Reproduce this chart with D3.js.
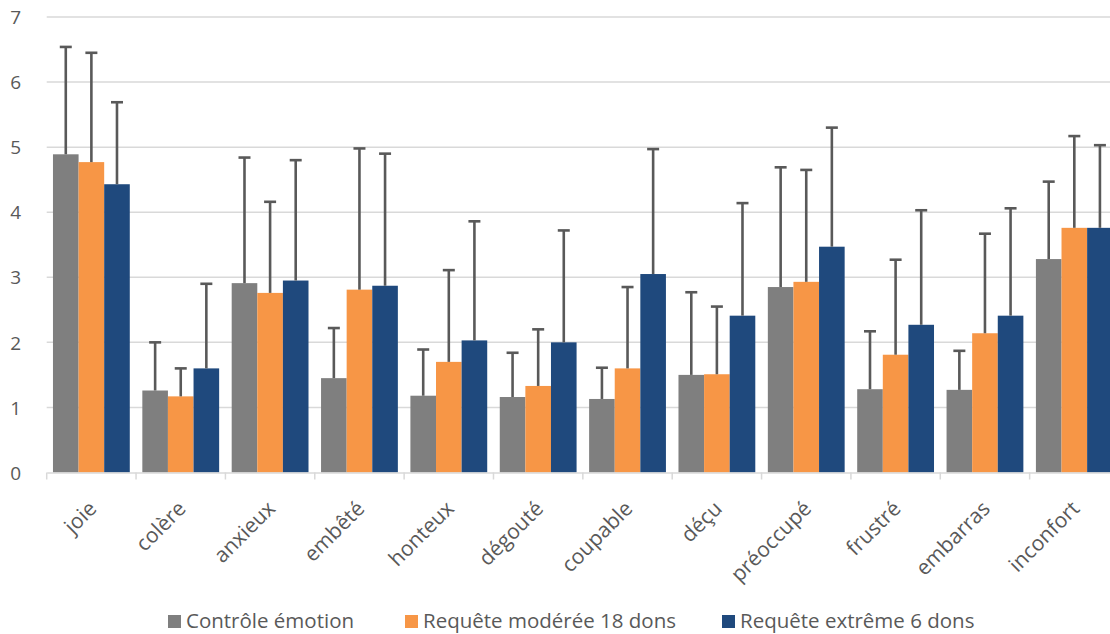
<!DOCTYPE html>
<html><head><meta charset="utf-8">
<script src="https://cdn.jsdelivr.net/npm/d3@7"></script>
<style>body{margin:0;background:#fff}svg{display:block}</style>
</head><body>
<svg id="c" width="1110" height="634"></svg>
<script>
const categories = ["joie","colère","anxieux","embêté","honteux","dégouté","coupable","déçu","préoccupé","frustré","embarras","inconfort"];
const seriesNames = ["Contrôle émotion","Requête modérée 18 dons","Requête extrême 6 dons"];
const controle = [4.89,1.26,2.91,1.45,1.18,1.16,1.13,1.50,2.85,1.28,1.27,3.28];
const moderee  = [4.77,1.17,2.76,2.81,1.70,1.33,1.60,1.51,2.93,1.81,2.14,3.76];
const extreme  = [4.43,1.60,2.95,2.87,2.03,2.00,3.05,2.41,3.47,2.27,2.41,3.76];
const controleErrTop = [6.54,2.00,4.84,2.22,1.89,1.84,1.61,2.77,4.69,2.17,1.87,4.47];
const modereeErrTop  = [6.45,1.60,4.16,4.98,3.11,2.20,2.85,2.55,4.65,3.27,3.67,5.17];
const extremeErrTop  = [5.69,2.90,4.80,4.90,3.86,3.72,4.97,4.14,5.30,4.03,4.06,5.03];
const yTicks = [0,1,2,3,4,5,6,7];
const colors = ["#7f7f7f","#f79646","#1f497d"];

const values = [controle, moderee, extreme];
const errs = [controleErrTop, modereeErrTop, extremeErrTop];

const svg = d3.select("#c");
const font = "'Open Sans', sans-serif";
const x0 = d3.scaleBand().domain(categories).range([46.7, 1119]).paddingInner(0).paddingOuter(0);
const x1 = d3.scaleBand().domain([0,1,2]).range([0, x0.bandwidth()]).paddingInner(0).paddingOuter(0.245);
const y = d3.scaleLinear().domain([0,7]).range([472.5, 17]);

// gridlines
svg.append("g").selectAll("line").data(yTicks.filter(d=>d>0)).join("line")
  .attr("x1", 46.7).attr("x2", 1119)
  .attr("y1", d=>y(d)).attr("y2", d=>y(d))
  .attr("stroke", "#d9d9d9").attr("stroke-width", 1.5);

// y axis labels
const yAxis = d3.axisLeft(y).tickValues(yTicks).tickFormat(d3.format("d")).tickSize(0).tickPadding(0);
const gy = svg.append("g").attr("transform","translate(21,0)").call(yAxis);
gy.select(".domain").remove();
gy.selectAll("text").attr("font-family", font).attr("font-size", 19).attr("fill", "#595959").attr("dy","0.35em");

// bars
const bars = svg.append("g");
categories.forEach((c, i) => {
  values.forEach((vals, s) => {
    const bx = x0(c) + x1(s);
    const bw = x1.bandwidth();
    bars.append("rect")
      .attr("x", bx).attr("width", bw)
      .attr("y", y(vals[i])).attr("height", y(0) - y(vals[i]))
      .attr("fill", colors[s]);
  });
});

// error bars
const eb = svg.append("g").attr("stroke", "#595959").attr("stroke-width", 2.6);
categories.forEach((c, i) => {
  values.forEach((vals, s) => {
    const cx = x0(c) + x1(s) + x1.bandwidth()/2;
    eb.append("line").attr("x1", cx).attr("x2", cx).attr("y1", y(vals[i])).attr("y2", y(errs[s][i]));
    eb.append("line").attr("x1", cx-6).attr("x2", cx+6).attr("y1", y(errs[s][i])).attr("y2", y(errs[s][i]));
  });
});

// x axis
const xAxis = d3.axisBottom(x0).tickSize(0).tickPadding(0).tickFormat("");
const gx = svg.append("g").attr("transform", `translate(0,${y(0)})`).call(xAxis);
gx.select(".domain").attr("stroke", "#d9d9d9").attr("stroke-width", 1.5);
gx.selectAll(".tick").remove();
const bounds = categories.map(c => x0(c));
svg.append("g").selectAll("line").data(bounds).join("line")
  .attr("x1", d=>d).attr("x2", d=>d).attr("y1", y(0)).attr("y2", y(0)+7)
  .attr("stroke", "#d9d9d9").attr("stroke-width", 1.5);

svg.append("g").selectAll("text").data(categories).join("text")
  .attr("transform", d => `translate(${x0(d)+x0.bandwidth()/2-4},${y(0)+27}) rotate(-45)`)
  .attr("text-anchor", "end").attr("dy", "0.7em")
  .attr("font-family", font).attr("font-size", 21).attr("fill", "#595959")
  .text(d=>d);

// legend
const legX = [168, 405, 722];
const lg = svg.append("g");
seriesNames.forEach((n, s) => {
  lg.append("rect").attr("x", legX[s]).attr("y", 615).attr("width", 13).attr("height", 13).attr("fill", colors[s]);
  lg.append("text").attr("x", legX[s]+18).attr("y", 621).attr("dy", "0.35em")
    .attr("font-family", font).attr("font-size", 20.5).attr("fill", "#595959").text(n);
});
</script>
</body></html>
